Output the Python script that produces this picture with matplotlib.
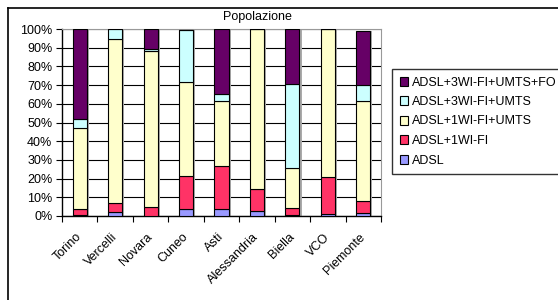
import numpy as np
import matplotlib.pyplot as plt
from matplotlib.ticker import FixedLocator, PercentFormatter

plt.rcParams['font.family'] = ['Liberation Sans', 'DejaVu Sans']

regions = ['Torino', 'Vercelli', 'Novara', 'Cuneo', 'Asti', 'Alessandria',
           'Biella', 'VCO', 'Piemonte']

# percentages, bottom to top
adsl = [0.5, 2.0, 0.0, 4.0, 3.5, 2.5, 0.5, 1.0, 1.5]
adsl_1wifi = [3.5, 5.0, 5.0, 17.5, 23.5, 12.0, 4.0, 20.0, 6.5]
adsl_1wifi_umts = [43.0, 87.5, 83.5, 50.0, 34.5, 85.5, 21.0, 79.0, 53.5]
adsl_3wifi_umts = [5.0, 5.5, 0.8, 28.0, 3.5, 0.0, 45.0, 0.0, 8.5]
adsl_3wifi_umts_fo = [48.0, 0.0, 10.7, 0.0, 35.0, 0.0, 29.5, 0.0, 29.0]

series = [
    ('ADSL', adsl, '#9999FF'),
    ('ADSL+1WI-FI', adsl_1wifi, '#FF3366'),
    ('ADSL+1WI-FI+UMTS', adsl_1wifi_umts, '#FFFFCC'),
    ('ADSL+3WI-FI+UMTS', adsl_3wifi_umts, '#CCFFFF'),
    ('ADSL+3WI-FI+UMTS+FO', adsl_3wifi_umts_fo, '#660066'),
]

fig = plt.figure(figsize=(5.58, 3.0), dpi=100)
ax = fig.add_axes([62/558, 84/300, 319/558, 187/300])

x = np.arange(len(regions))
w = 0.4

# shadow behind each stack
totals = np.sum([s[1] for s in series], axis=0)
ax.bar(x + 0.06, totals, w, color='#aaaaaa', zorder=2)

bottom = np.zeros(len(regions))
handles = []
for name, vals, col in series:
    vals = np.array(vals)
    b = ax.bar(x, vals, w, bottom=bottom, color=col, edgecolor='black',
               linewidth=0.8, zorder=3, label=name)
    handles.append(b)
    bottom += vals

ax.set_xlim(-0.5, len(regions) - 0.5)
ax.set_ylim(0, 100)
ax.yaxis.set_major_locator(FixedLocator(np.arange(0, 101, 10)))
ax.yaxis.set_major_formatter(PercentFormatter(decimals=0))
ax.grid(axis='y', color='black', linewidth=0.8, zorder=1)

ax.set_xticks(np.arange(-0.5, len(regions), 1))
ax.set_xticklabels([])
ax.tick_params(axis='x', length=4, direction='out', width=0.8)
ax.tick_params(axis='y', length=4, direction='out', width=0.8, labelsize=9, pad=3)
for i, r in enumerate(regions):
    ax.text(i - 0.12, -8, r, rotation=45, ha='right', va='top',
            fontsize=9, rotation_mode='anchor', transform=ax.transData)

for side in ['top', 'right']:
    ax.spines[side].set_color('#999999')
ax.spines['left'].set_linewidth(1.0)
ax.spines['bottom'].set_linewidth(1.0)

fig.text(257/558, 1 - 17/300, 'Popolazione', ha='center', va='center', fontsize=9)

# outer chart frame
fig.add_artist(plt.Line2D([8/558, 1], [1 - 8/300, 1 - 8/300], color='black',
                          linewidth=1.2, transform=fig.transFigure))
fig.add_artist(plt.Line2D([8/558, 8/558], [0, 1 - 8/300], color='black',
                          linewidth=1.2, transform=fig.transFigure))

leg = fig.legend(handles[::-1], [s[0] for s in series][::-1],
                 loc='upper left', bbox_to_anchor=(392/558, 1 - 69/300),
                 fontsize=9, frameon=True, fancybox=False, handlelength=0.7,
                 handleheight=0.7, handletextpad=0.3, labelspacing=0.6,
                 borderpad=0.6, borderaxespad=0)
leg.get_frame().set_edgecolor('black')
leg.get_frame().set_linewidth(1.0)

fig.savefig('out.png', dpi=100)
